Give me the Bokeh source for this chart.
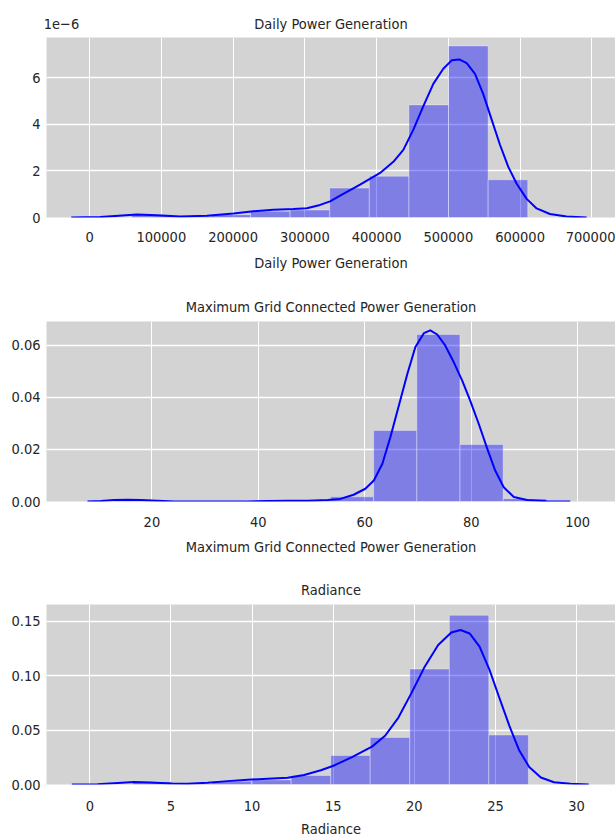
from bokeh.plotting import figure
from bokeh.layouts import column
from bokeh.models import Range1d, FixedTicker, CustomJSTickFormatter, LinearAxis
from bokeh.embed import file_html
from bokeh.resources import INLINE

# ---------------- data ----------------
# Panel 1: Daily Power Generation (density values)
daily_edges = [58700, 113900, 169100, 224300, 279500, 334700, 389900, 445100, 500300, 555500, 610700]
daily_heights = [0.12e-6, 0.05e-6, 0.12e-6, 0.27e-6, 0.32e-6, 1.26e-6, 1.77e-6, 4.83e-6, 7.36e-6, 1.62e-6]
daily_kde_x = [-25500, 14900, 66000, 93900, 126300, 163500, 200600, 228400, 256300, 284100,
               302800, 321300, 335200, 349200, 377000, 404900, 423400, 437300, 451300, 465200,
               479100, 493000, 504700, 515300, 525600, 537200, 548700, 560400, 572000, 583600,
               595300, 609200, 623100, 641600, 664900, 692800]
daily_kde_y = [0.0e-6, 0.02e-6, 0.13e-6, 0.10e-6, 0.04e-6, 0.07e-6, 0.17e-6, 0.27e-6, 0.33e-6, 0.36e-6,
               0.40e-6, 0.54e-6, 0.69e-6, 0.94e-6, 1.41e-6, 1.91e-6, 2.39e-6, 2.90e-6, 3.77e-6, 4.78e-6,
               5.73e-6, 6.38e-6, 6.74e-6, 6.78e-6, 6.62e-6, 6.16e-6, 5.29e-6, 4.20e-6, 3.12e-6, 2.17e-6,
               1.45e-6, 0.80e-6, 0.39e-6, 0.15e-6, 0.04e-6, 0.0e-6]
daily_xticks = [0, 100000, 200000, 300000, 400000, 500000, 600000, 700000]
daily_yticks = [0, 2e-6, 4e-6, 6e-6]
daily_offset_text = "1e\u22126"

# Panel 2: Maximum Grid Connected Power Generation
grid_edges = [13.0, 21.11, 29.22, 37.33, 45.44, 53.55, 61.66, 69.77, 77.88, 85.99, 94.10]
grid_heights = [0.0006, 0.0, 0.0, 0.0002, 0.0004, 0.0018, 0.0273, 0.0642, 0.0219, 0.0011]
grid_kde_x = [7.9, 10.4, 12.9, 15.4, 17.9, 21.1, 24.2, 38.0, 41.8, 45.5, 49.3, 53.0, 55.4, 57.9,
              60.1, 61.7, 63.3, 64.8, 66.4, 68.0, 69.5, 71.1, 72.3, 73.6, 75.1, 76.7, 78.3, 79.8,
              81.4, 83.0, 84.5, 86.1, 88.0, 90.5, 94.2, 98.6]
grid_kde_y = [0.0, 0.0002, 0.0006, 0.0007, 0.0006, 0.0003, 0.0, 0.0, 0.0002, 0.0003, 0.0003, 0.0006,
              0.0010, 0.0026, 0.0049, 0.0081, 0.0145, 0.0247, 0.0369, 0.0491, 0.0594, 0.0647, 0.0658,
              0.0642, 0.0600, 0.0536, 0.0465, 0.0388, 0.0299, 0.0203, 0.0119, 0.0055, 0.0017, 0.0006,
              0.0001, 0.0]
grid_xticks = [20, 40, 60, 80, 100]
grid_yticks = [0.0, 0.02, 0.04, 0.06]

# Panel 3: Radiance
rad_edges = [2.66, 5.10, 7.53, 9.97, 12.41, 14.85, 17.28, 19.72, 22.16, 24.59, 27.03]
rad_heights = [0.0025, 0.0005, 0.0030, 0.0042, 0.0083, 0.0267, 0.0433, 0.1061, 0.1555, 0.0455]
rad_kde_x = [-1.11, 0.47, 1.71, 2.73, 3.76, 4.99, 6.02, 7.26, 8.49, 9.72, 10.96, 12.19, 13.21, 14.24,
             15.06, 16.16, 17.39, 18.20, 19.02, 19.83, 20.65, 21.47, 22.28, 22.85, 23.41, 24.02,
             24.63, 25.24, 25.86, 26.47, 27.08, 27.80, 28.61, 29.63, 30.75]
rad_kde_y = [0.0, 0.0003, 0.0013, 0.0022, 0.0019, 0.0009, 0.0006, 0.0016, 0.0031, 0.0044, 0.0053,
             0.0063, 0.0088, 0.0131, 0.0175, 0.0252, 0.0348, 0.0448, 0.0615, 0.0842, 0.1085, 0.1282,
             0.1397, 0.1420, 0.1388, 0.1267, 0.1055, 0.0797, 0.0539, 0.0312, 0.0161, 0.0064, 0.0021,
             0.0006, 0.0]
rad_xticks = [0, 5, 10, 15, 20, 25, 30]
rad_yticks = [0.0, 0.05, 0.10, 0.15]

FONT = "DejaVu Sans Condensed, Liberation Sans"
TEXT = "#262626"
FS = "14.5px"
PLOT_W = 615
LEFT = 46


def style_axis(ax):
    ax.axis_line_color = None
    ax.major_tick_line_color = None
    ax.minor_tick_line_color = None
    ax.major_tick_out = 0
    ax.major_tick_in = 0
    ax.major_label_text_font = FONT
    ax.major_label_text_font_size = FS
    ax.major_label_text_color = TEXT
    ax.axis_label_text_font = FONT
    ax.axis_label_text_font_size = FS
    ax.axis_label_text_font_style = "normal"
    ax.axis_label_text_color = TEXT


def make_panel(title, xlabel, edges, heights, kx, ky, xr, ymax, xticks, yticks,
               xcode, ycode, height, bottom, tick_so, label_so, offset_text=None):
    p = figure(width=PLOT_W, height=height, x_range=Range1d(xr[0], xr[1]),
               y_range=Range1d(0, ymax), output_backend="svg", toolbar_location=None,
               min_border_left=LEFT, min_border_right=0, min_border_top=37,
               min_border_bottom=bottom, background_fill_color="#d3d3d3",
               border_fill_color="white", outline_line_color=None)

    p.quad(left=edges[:-1], right=edges[1:], top=heights, bottom=0,
           fill_color="blue", fill_alpha=0.4, line_color="white", line_alpha=0.35,
           line_width=1)
    p.line(kx, ky, line_color="blue", line_width=2, line_join="round")

    p.xaxis.ticker = FixedTicker(ticks=xticks)
    p.yaxis.ticker = FixedTicker(ticks=yticks)
    p.xaxis.formatter = CustomJSTickFormatter(code=xcode)
    p.yaxis.formatter = CustomJSTickFormatter(code=ycode)
    p.xaxis.axis_label = xlabel
    style_axis(p.xaxis[0])
    style_axis(p.yaxis[0])
    p.xaxis.major_label_standoff = tick_so
    p.xaxis.axis_label_standoff = label_so
    p.yaxis.major_label_standoff = 6

    p.xgrid.grid_line_color = "white"
    p.xgrid.grid_line_width = 1
    p.ygrid.grid_line_color = "white"
    p.ygrid.grid_line_width = 1.4

    if offset_text is None:
        p.title.text = title
        p.title.align = "center"
        p.title.text_font = FONT
        p.title.text_font_size = FS
        p.title.text_font_style = "normal"
        p.title.text_color = TEXT
        p.title.standoff = 13
    else:
        # top row: offset text at the left edge of the axes and the title centred,
        # both drawn as labels of a label-only axis above the frame
        frame_w = PLOT_W - LEFT
        span = xr[1] - xr[0]
        t_off = xr[0] + span * 15.0 / frame_w
        t_mid = xr[0] + span / 2
        top = LinearAxis(ticker=FixedTicker(ticks=[t_off, t_mid]),
                         formatter=CustomJSTickFormatter(
                             args=dict(a=offset_text, b=title),
                             code="return index == 0 ? a : b;"))
        style_axis(top)
        top.major_label_standoff = 6
        p.add_layout(top, "above")
    return p


p1 = make_panel("Daily Power Generation", "Daily Power Generation",
                daily_edges, daily_heights, daily_kde_x, daily_kde_y,
                (-60000, 733000), 7.72e-6, daily_xticks, daily_yticks,
                "return tick.toFixed(0);", "return (tick*1e6).toFixed(0);",
                284, 67, 14, 10, offset_text=daily_offset_text)
p2 = make_panel("Maximum Grid Connected Power Generation",
                "Maximum Grid Connected Power Generation",
                grid_edges, grid_heights, grid_kde_x, grid_kde_y,
                (0.2, 107.1), 0.0692, grid_xticks, grid_yticks,
                "return tick.toFixed(0);", "return tick.toFixed(2);",
                283, 66, 15, 9)
p3 = make_panel("Radiance", "Radiance",
                rad_edges, rad_heights, rad_kde_x, rad_kde_y,
                (-2.67, 32.4), 0.1654, rad_xticks, rad_yticks,
                "return tick.toFixed(0);", "return tick.toFixed(2);",
                273, 56, 16, 7)

layout = column(p1, p2, p3, spacing=0)
open("out.html", "w").write(file_html(layout, INLINE))
